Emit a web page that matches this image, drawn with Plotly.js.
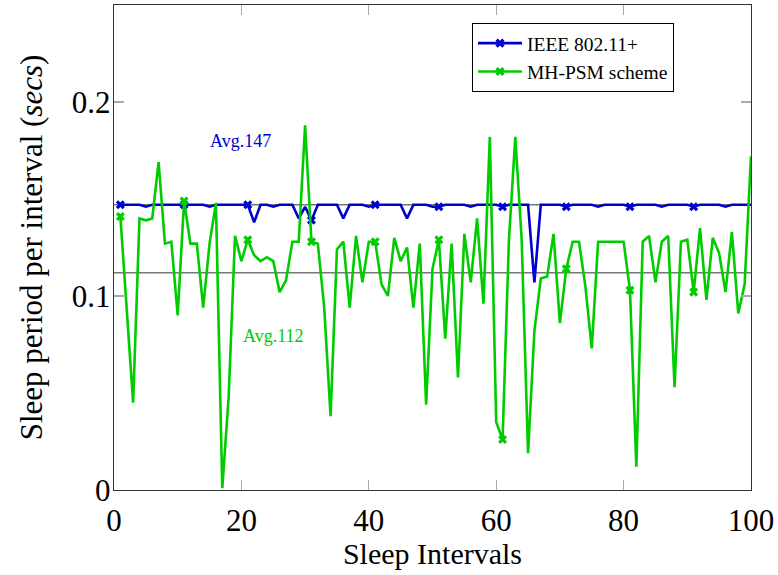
<!DOCTYPE html>
<html>
<head>
<meta charset="utf-8">
<script src="https://cdn.plot.ly/plotly-3.0.1.min.js"></script>
<style>html,body{margin:0;padding:0;background:#fff}#chart{width:778px;height:575px}</style>
</head>
<body>
<div id="chart"></div>
<script>
// Sleep interval index
const intervals = [
  1,2,3,4,5,6,7,8,9,10,11,12,13,14,15,16,17,18,19,20,
  21,22,23,24,25,26,27,28,29,30,31,32,33,34,35,36,37,38,39,40,
  41,42,43,44,45,46,47,48,49,50,51,52,53,54,55,56,57,58,59,60,
  61,62,63,64,65,66,67,68,69,70,71,72,73,74,75,76,77,78,79,80,
  81,82,83,84,85,86,87,88,89,90,91,92,93,94,95,96,97,98,99,100
];
// IEEE 802.11+ sleep period (secs)
const ieee = [
  0.147,0.147,0.147,0.147,0.146,0.147,0.147,0.147,0.147,0.147,
  0.147,0.147,0.147,0.147,0.146,0.147,0.147,0.147,0.147,0.147,
  0.147,0.138,0.147,0.147,0.146,0.147,0.147,0.147,0.140,0.146,
  0.139,0.147,0.147,0.147,0.147,0.140,0.147,0.147,0.147,0.146,
  0.147,0.147,0.147,0.147,0.147,0.140,0.147,0.147,0.147,0.146,
  0.146,0.147,0.147,0.147,0.147,0.146,0.147,0.147,0.147,0.147,
  0.146,0.147,0.147,0.147,0.147,0.107,0.147,0.147,0.147,0.147,
  0.146,0.147,0.147,0.147,0.147,0.146,0.147,0.147,0.147,0.147,
  0.146,0.147,0.147,0.147,0.147,0.146,0.147,0.147,0.147,0.147,
  0.146,0.147,0.147,0.147,0.147,0.146,0.147,0.147,0.147,0.147
];
// MH-PSM scheme sleep period (secs)
const mhpsm = [
  0.141,0.093,0.045,0.140,0.139,0.140,0.169,0.127,0.128,0.090,
  0.149,0.127,0.127,0.094,0.127,0.148,0.001,0.048,0.131,0.118,
  0.129,0.121,0.118,0.120,0.118,0.102,0.108,0.128,0.128,0.188,
  0.128,0.127,0.094,0.038,0.124,0.128,0.094,0.131,0.107,0.128,
  0.128,0.106,0.100,0.130,0.118,0.125,0.094,0.127,0.044,0.114,
  0.129,0.078,0.127,0.058,0.132,0.107,0.140,0.096,0.182,0.035,
  0.026,0.129,0.182,0.129,0.019,0.082,0.109,0.110,0.132,0.086,
  0.114,0.128,0.128,0.105,0.073,0.128,0.128,0.128,0.128,0.128,
  0.103,0.012,0.128,0.131,0.107,0.128,0.131,0.053,0.128,0.129,
  0.102,0.135,0.098,0.130,0.122,0.102,0.133,0.091,0.106,0.172
];
const markedIntervals = [1,11,21,31,41,51,61,71,81,91];
const seriesNames = ['IEEE 802.11+', 'MH-PSM scheme'];
const avgIeee = 0.147;
const avgMhpsm = 0.112;
const avgLabels = ['Avg.147', 'Avg.112'];
const xTicks = [0,20,40,60,80,100];
const yTicks = [0,0.1,0.2];
const yTickText = ['0','0.1','0.2'];

const BLUE = 'rgb(0,0,204)';
const GREEN = 'rgb(0,204,0)';
const FONT = 'Liberation Serif, Times New Roman, serif';

function markerColors(col) {
  return intervals.map(v => markedIntervals.includes(v) ? col : 'rgba(0,0,0,0)');
}

const traces = [
  {x: intervals, y: ieee, name: seriesNames[0], mode: 'lines+markers',
   line: {color: BLUE, width: 2.6},
   marker: {symbol: 'x', size: 8, color: markerColors(BLUE)}},
  {x: intervals, y: mhpsm, name: seriesNames[1], mode: 'lines+markers',
   line: {color: GREEN, width: 2.6},
   marker: {symbol: 'x', size: 8, color: markerColors(GREEN)}}
];

const axisCommon = {
  showline: true, linecolor: '#333', linewidth: 1.3, mirror: 'ticks',
  ticks: 'inside', ticklen: 10, tickcolor: '#aaa', tickwidth: 1.2,
  showgrid: false, zeroline: false,
  tickfont: {family: FONT, size: 31, color: '#000'}
};

const layout = {
  width: 778, height: 575,
  margin: {l: 114, r: 27, t: 5, b: 85},
  paper_bgcolor: '#fff', plot_bgcolor: '#fff',
  showlegend: true,
  legend: {x: 0.562, y: 0.963, xanchor: 'left', yanchor: 'top',
    bordercolor: '#000', borderwidth: 1, bgcolor: '#fff', itemwidth: 44,
    font: {family: FONT, size: 19.5, color: '#000'}, tracegroupgap: 0},
  xaxis: Object.assign({}, axisCommon, {
    range: [0, 100], tickvals: xTicks, ticklabelstandoff: 2,
    title: {text: 'Sleep Intervals', font: {family: FONT, size: 30, color: '#000'}, standoff: 5}
  }),
  yaxis: Object.assign({}, axisCommon, {
    range: [0, 0.25], tickvals: yTicks, ticktext: yTickText,
    ticklabelstandoff: -4,
    title: {text: 'Sleep period per interval (<i>secs</i>)', font: {family: FONT, size: 31, color: '#000'}, standoff: 20}
  }),
  shapes: [
    {type: 'line', xref: 'paper', x0: 0, x1: 1, yref: 'y', y0: avgIeee, y1: avgIeee, layer: 'below', line: {color: '#777', width: 1.5}},
    {type: 'line', xref: 'paper', x0: 0, x1: 1, yref: 'y', y0: avgMhpsm, y1: avgMhpsm, layer: 'below', line: {color: '#777', width: 1.5}}
  ],
  annotations: [
    {x: 19.9, y: 0.180, xref: 'x', yref: 'y', text: avgLabels[0], showarrow: false, font: {family: FONT, size: 18, color: BLUE}},
    {x: 25, y: 0.0794, xref: 'x', yref: 'y', text: avgLabels[1], showarrow: false, font: {family: FONT, size: 18, color: GREEN}}
  ]
};

Plotly.newPlot('chart', traces, layout, {displayModeBar: false, staticPlot: true});
</script>
</body>
</html>
